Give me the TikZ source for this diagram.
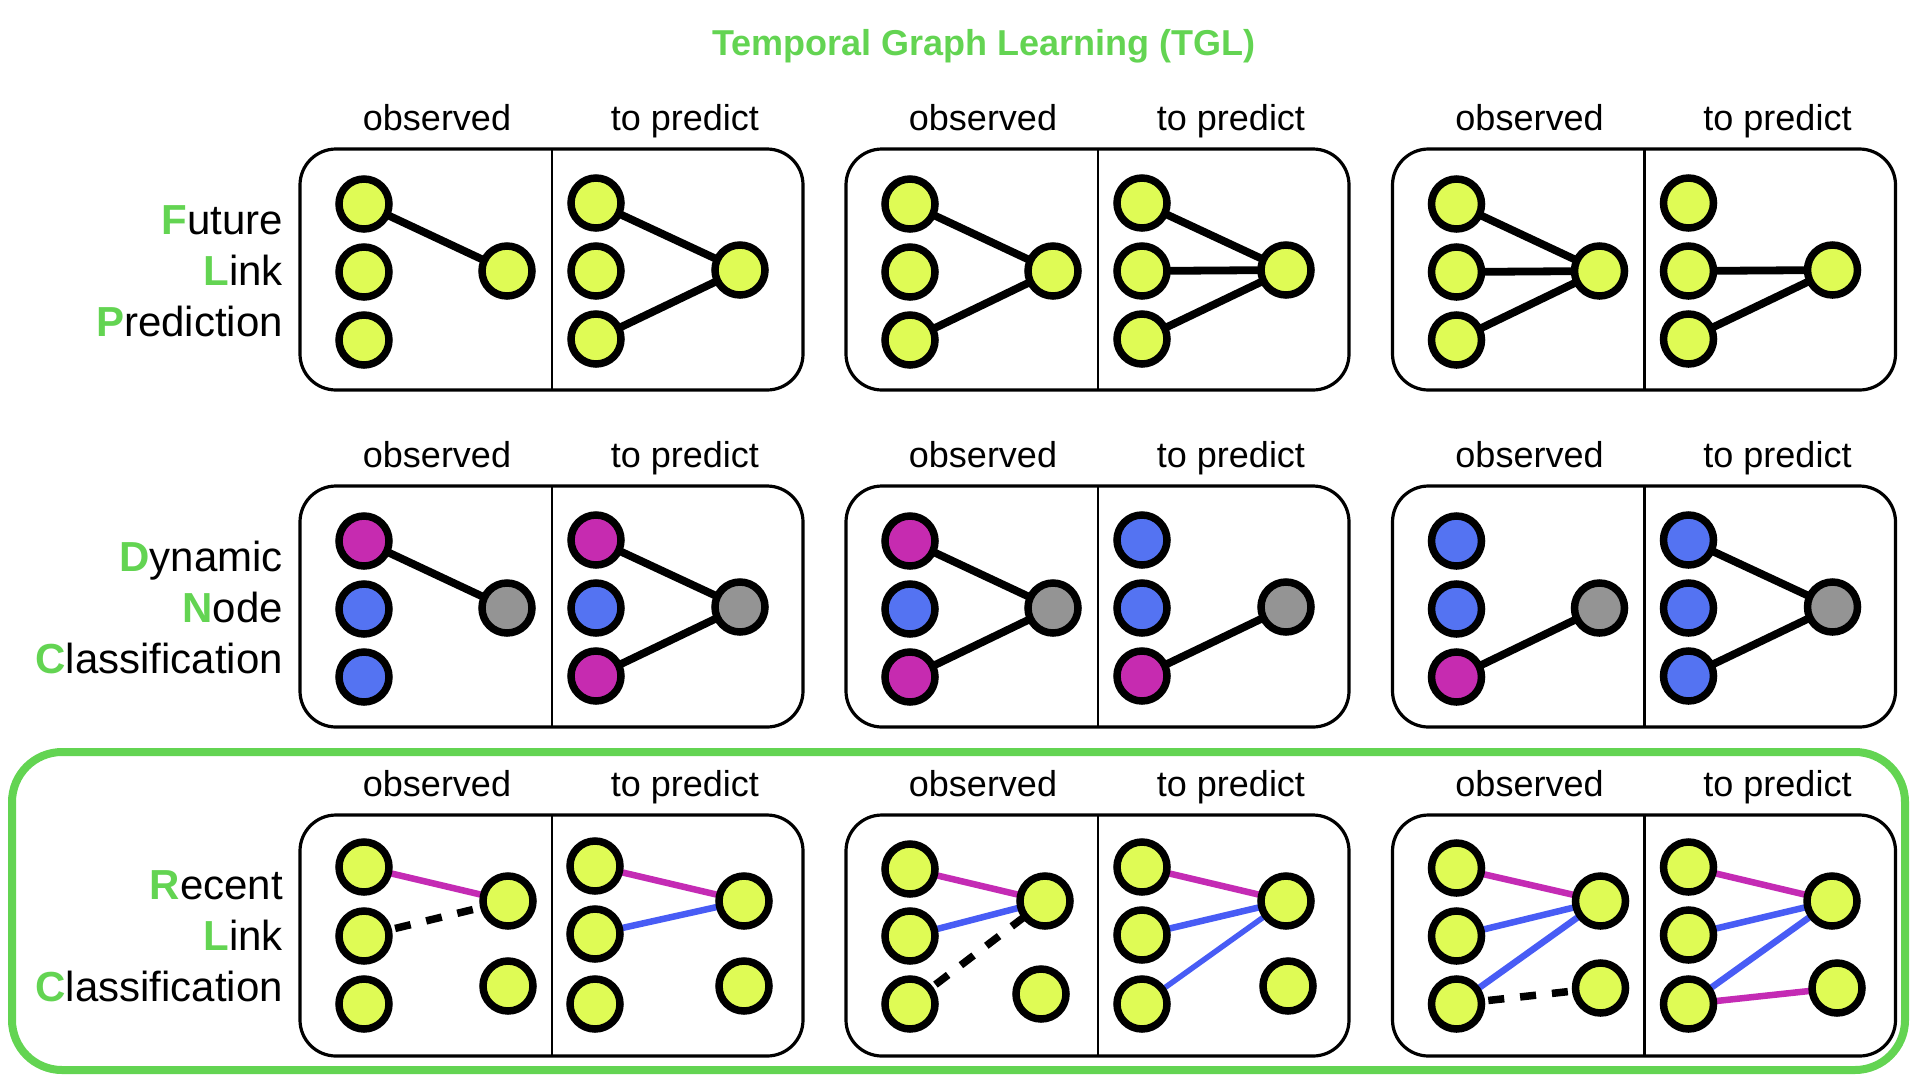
\documentclass[tikz,border=0pt]{standalone}
\usepackage{fontspec}
\setmainfont{Liberation Sans}
\usetikzlibrary{backgrounds}
\definecolor{tglgreen}{RGB}{99,212,82}
\definecolor{nyel}{RGB}{223,251,85}
\definecolor{nmag}{RGB}{198,43,176}
\definecolor{nblu}{RGB}{84,115,242}
\definecolor{ngry}{RGB}{148,148,148}
\definecolor{emag}{RGB}{196,43,180}
\definecolor{eblu}{RGB}{72,92,245}
\tikzset{
 nd/.style={circle, draw=black, line width=7.5pt, minimum size=50pt, inner sep=0pt},
 ye/.style={nd, fill=nyel},
 mg/.style={nd, fill=nmag},
 bl/.style={nd, fill=nblu},
 gy/.style={nd, fill=ngry},
 bedgeK/.style={line width=7.8pt, black},
 medge/.style={line width=6.5pt, emag},
 bedge/.style={line width=6.5pt, eblu},
 tbedge/.style={line width=5.5pt, eblu},
 dedge/.style={line width=7.5pt, black, dash pattern=on 16pt off 16pt},
 panelbox/.style={draw, line width=3.2pt, rounded corners=36pt},
 divider/.style={line width=2.6pt},
 headlab/.style={font=\fontsize{36}{40}\selectfont, anchor=base, inner sep=0pt},
 rowlab/.style={font=\fontsize{42}{48}\selectfont, anchor=base east, inner sep=0pt},
}
\newcommand\panelframe[1]{%
  \draw[panelbox] (0,0) rectangle (503,241);
  \draw[divider] (252,0) -- (252,241);
  \node[headlab] (#1obs) at (137,-19) {observed};
  \node[headlab] (#1pre) at (385,-19) {to predict};
}
\begin{document}
\begin{tikzpicture}[x=1pt,y=-1pt]
\useasboundingbox (0,0) rectangle (1920,1080);

\node[anchor=base, inner sep=0pt, font=\fontsize{36}{40}\selectfont\bfseries, text=tglgreen] (title) at (984,55) {Temporal Graph Learning (TGL)};

% green highlight frame
\draw[tglgreen, line width=8pt, rounded corners=50pt] (12,752) rectangle (1905,1070);

% row labels
\node[rowlab] (lab1a) at (283,234) {\textcolor{tglgreen}{\textbf{F}}uture};
\node[rowlab] (lab1b) at (283,285) {\textcolor{tglgreen}{\textbf{L}}ink};
\node[rowlab] (lab1c) at (283,336) {\textcolor{tglgreen}{\textbf{P}}rediction};
\node[rowlab] (lab2a) at (283,571) {\textcolor{tglgreen}{\textbf{D}}ynamic};
\node[rowlab] (lab2b) at (283,622) {\textcolor{tglgreen}{\textbf{N}}ode};
\node[rowlab] (lab2c) at (283,673) {\textcolor{tglgreen}{\textbf{C}}lassification};
\node[rowlab] (lab3a) at (283,899) {\textcolor{tglgreen}{\textbf{R}}ecent};
\node[rowlab] (lab3b) at (283,950) {\textcolor{tglgreen}{\textbf{L}}ink};
\node[rowlab] (lab3c) at (283,1001) {\textcolor{tglgreen}{\textbf{C}}lassification};

% ================= ROW 1 =================
\begin{scope}[shift={(300,149)}]
 \panelframe{a1}
 \node[ye] (a1a) at (64,55) {}; \node[ye] (a1b) at (64,123) {}; \node[ye] (a1c) at (64,191) {}; \node[ye] (a1r) at (207,122) {};
 \node[ye] (a1p) at (296,54) {}; \node[ye] (a1q) at (296,122) {}; \node[ye] (a1s) at (296,190) {}; \node[ye] (a1t) at (440,121) {};
 \begin{pgfonlayer}{background}
  \draw[bedgeK] (a1a.center) -- (a1r.center);
  \draw[bedgeK] (a1p.center) -- (a1t.center);
  \draw[bedgeK] (a1s.center) -- (a1t.center);
 \end{pgfonlayer}
\end{scope}
\begin{scope}[shift={(846,149)}]
 \panelframe{a2}
 \node[ye] (a2a) at (64,55) {}; \node[ye] (a2b) at (64,123) {}; \node[ye] (a2c) at (64,191) {}; \node[ye] (a2r) at (207,122) {};
 \node[ye] (a2p) at (296,54) {}; \node[ye] (a2q) at (296,122) {}; \node[ye] (a2s) at (296,190) {}; \node[ye] (a2t) at (440,121) {};
 \begin{pgfonlayer}{background}
  \draw[bedgeK] (a2a.center) -- (a2r.center);
  \draw[bedgeK] (a2c.center) -- (a2r.center);
  \draw[bedgeK] (a2p.center) -- (a2t.center);
  \draw[bedgeK] (a2q.center) -- (a2t.center);
  \draw[bedgeK] (a2s.center) -- (a2t.center);
 \end{pgfonlayer}
\end{scope}
\begin{scope}[shift={(1392.5,149)}]
 \panelframe{a3}
 \node[ye] (a3a) at (64,55) {}; \node[ye] (a3b) at (64,123) {}; \node[ye] (a3c) at (64,191) {}; \node[ye] (a3r) at (207,122) {};
 \node[ye] (a3p) at (296,54) {}; \node[ye] (a3q) at (296,122) {}; \node[ye] (a3s) at (296,190) {}; \node[ye] (a3t) at (440,121) {};
 \begin{pgfonlayer}{background}
  \draw[bedgeK] (a3a.center) -- (a3r.center);
  \draw[bedgeK] (a3b.center) -- (a3r.center);
  \draw[bedgeK] (a3c.center) -- (a3r.center);
  \draw[bedgeK] (a3q.center) -- (a3t.center);
  \draw[bedgeK] (a3s.center) -- (a3t.center);
 \end{pgfonlayer}
\end{scope}

% ================= ROW 2 =================
\begin{scope}[shift={(300,486)}]
 \panelframe{b1}
 \node[mg] (b1a) at (64,55) {}; \node[bl] (b1b) at (64,123) {}; \node[bl] (b1c) at (64,191) {}; \node[gy] (b1r) at (207,122) {};
 \node[mg] (b1p) at (296,54) {}; \node[bl] (b1q) at (296,122) {}; \node[mg] (b1s) at (296,190) {}; \node[gy] (b1t) at (440,121) {};
 \begin{pgfonlayer}{background}
  \draw[bedgeK] (b1a.center) -- (b1r.center);
  \draw[bedgeK] (b1p.center) -- (b1t.center);
  \draw[bedgeK] (b1s.center) -- (b1t.center);
 \end{pgfonlayer}
\end{scope}
\begin{scope}[shift={(846,486)}]
 \panelframe{b2}
 \node[mg] (b2a) at (64,55) {}; \node[bl] (b2b) at (64,123) {}; \node[mg] (b2c) at (64,191) {}; \node[gy] (b2r) at (207,122) {};
 \node[bl] (b2p) at (296,54) {}; \node[bl] (b2q) at (296,122) {}; \node[mg] (b2s) at (296,190) {}; \node[gy] (b2t) at (440,121) {};
 \begin{pgfonlayer}{background}
  \draw[bedgeK] (b2a.center) -- (b2r.center);
  \draw[bedgeK] (b2c.center) -- (b2r.center);
  \draw[bedgeK] (b2s.center) -- (b2t.center);
 \end{pgfonlayer}
\end{scope}
\begin{scope}[shift={(1392.5,486)}]
 \panelframe{b3}
 \node[bl] (b3a) at (64,55) {}; \node[bl] (b3b) at (64,123) {}; \node[mg] (b3c) at (64,191) {}; \node[gy] (b3r) at (207,122) {};
 \node[bl] (b3p) at (296,54) {}; \node[bl] (b3q) at (296,122) {}; \node[bl] (b3s) at (296,190) {}; \node[gy] (b3t) at (440,121) {};
 \begin{pgfonlayer}{background}
  \draw[bedgeK] (b3c.center) -- (b3r.center);
  \draw[bedgeK] (b3p.center) -- (b3t.center);
  \draw[bedgeK] (b3s.center) -- (b3t.center);
 \end{pgfonlayer}
\end{scope}

% ================= ROW 3 =================
\begin{scope}[shift={(300,815)}]
 \panelframe{c1}
 \node[ye] (c1a) at (64,52) {}; \node[ye] (c1b) at (64,121) {}; \node[ye] (c1c) at (64,189) {};
 \node[ye] (c1r) at (208,86) {}; \node[ye] (c1u) at (208,171) {};
 \node[ye] (c1p) at (295,51) {}; \node[ye] (c1q) at (295,119) {}; \node[ye] (c1s) at (295,189) {};
 \node[ye] (c1t) at (444,86) {}; \node[ye] (c1v) at (444,171) {};
 \begin{pgfonlayer}{background}
  \draw[medge] (c1a.center) -- (c1r.center);
  \draw[dedge] (c1b.center) -- (c1r.center);
  \draw[medge] (c1p.center) -- (c1t.center);
  \draw[bedge] (c1q.center) -- (c1t.center);
 \end{pgfonlayer}
\end{scope}
\begin{scope}[shift={(846,815)}]
 \panelframe{c2}
 \node[ye] (c2a) at (64,54) {}; \node[ye] (c2b) at (64,121) {}; \node[ye] (c2c) at (64,189) {};
 \node[ye] (c2r) at (199,86) {}; \node[ye] (c2u) at (195,179) {};
 \node[ye] (c2p) at (296,52) {}; \node[ye] (c2q) at (296,120) {}; \node[ye] (c2s) at (296,189) {};
 \node[ye] (c2t) at (440,86) {}; \node[ye] (c2v) at (442,171) {};
 \begin{pgfonlayer}{background}
  \draw[medge] (c2a.center) -- (c2r.center);
  \draw[bedge] (c2b.center) -- (c2r.center);
  \draw[dedge] (c2c.center) -- (c2r.center);
  \draw[medge] (c2p.center) -- (c2t.center);
  \draw[bedge] (c2q.center) -- (c2t.center);
  \draw[tbedge] (c2s.center) -- (c2t.center);
 \end{pgfonlayer}
\end{scope}
\begin{scope}[shift={(1392.5,815)}]
 \panelframe{c3}
 \node[ye] (c3a) at (64,53) {}; \node[ye] (c3b) at (64,121) {}; \node[ye] (c3c) at (64,189) {};
 \node[ye] (c3r) at (208,86) {}; \node[ye] (c3u) at (208,173) {};
 \node[ye] (c3p) at (296,52) {}; \node[ye] (c3q) at (296,120) {}; \node[ye] (c3s) at (296,189) {};
 \node[ye] (c3t) at (439.5,86) {}; \node[ye] (c3v) at (444.5,173) {};
 \begin{pgfonlayer}{background}
  \draw[medge] (c3a.center) -- (c3r.center);
  \draw[bedge] (c3b.center) -- (c3r.center);
  \draw[bedge] (c3c.center) -- (c3r.center);
  \draw[dedge] (c3c.center) -- (c3u.center);
  \draw[medge] (c3p.center) -- (c3t.center);
  \draw[bedge] (c3q.center) -- (c3t.center);
  \draw[bedge] (c3s.center) -- (c3t.center);
  \draw[medge] (c3s.center) -- (c3v.center);
 \end{pgfonlayer}
\end{scope}
\end{tikzpicture}
\end{document}
